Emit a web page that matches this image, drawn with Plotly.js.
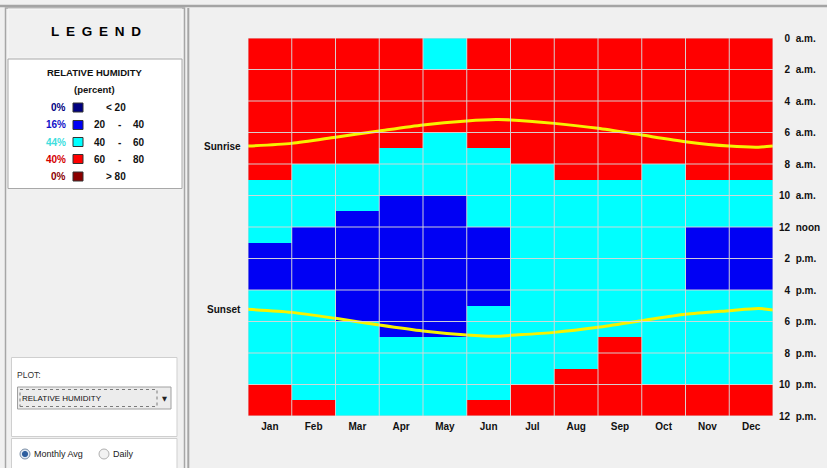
<!DOCTYPE html>
<html><head><meta charset="utf-8">
<script src="https://cdn.plot.ly/plotly-3.0.1.min.js"></script>
<style>html,body{margin:0;padding:0;background:#f0f0f0;overflow:hidden}</style>
</head><body><div id="chart" style="width:827px;height:468px"></div>
<script>
// ---------- DATA ----------
const months = ['Jan','Feb','Mar','Apr','May','Jun','Jul','Aug','Sep','Oct','Nov','Dec'];
const hourTickVals = [0,2,4,6,8,10,12,14,16,18,20,22,24];
const hourTickNums = ['0','2','4','6','8','10','12','2','4','6','8','10','12'];
const hourTickSuffix = ['a.m.','a.m.','a.m.','a.m.','a.m.','a.m.','noon','p.m.','p.m.','p.m.','p.m.','p.m.','p.m.'];

// humidity classes: 0 = <20, 1 = 20-40, 2 = 40-60, 3 = 60-80, 4 = >80  (hours 0..23)
const rhJan = [3,3,3,3,3,3,3,3,3,2,2,2,2,1,1,1,2,2,2,2,2,2,3,3];
const rhFeb = [3,3,3,3,3,3,3,3,2,2,2,2,1,1,1,1,2,2,2,2,2,2,2,3];
const rhMar = [3,3,3,3,3,3,3,3,2,2,2,1,1,1,1,1,1,1,2,2,2,2,2,2];
const rhApr = [3,3,3,3,3,3,3,2,2,2,1,1,1,1,1,1,1,1,1,2,2,2,2,2];
const rhMay = [2,2,3,3,3,3,2,2,2,2,1,1,1,1,1,1,1,1,1,2,2,2,2,2];
const rhJun = [3,3,3,3,3,3,3,2,2,2,2,2,1,1,1,1,1,2,2,2,2,2,2,3];
const rhJul = [3,3,3,3,3,3,3,3,2,2,2,2,2,2,2,2,2,2,2,2,2,2,3,3];
const rhAug = [3,3,3,3,3,3,3,3,3,2,2,2,2,2,2,2,2,2,2,2,2,3,3,3];
const rhSep = [3,3,3,3,3,3,3,3,3,2,2,2,2,2,2,2,2,2,2,3,3,3,3,3];
const rhOct = [3,3,3,3,3,3,3,3,2,2,2,2,2,2,2,2,2,2,2,2,2,2,3,3];
const rhNov = [3,3,3,3,3,3,3,3,3,2,2,2,1,1,1,1,2,2,2,2,2,2,3,3];
const rhDec = [3,3,3,3,3,3,3,3,3,2,2,2,1,1,1,1,2,2,2,2,2,2,3,3];
const rhByMonth = [rhJan,rhFeb,rhMar,rhApr,rhMay,rhJun,rhJul,rhAug,rhSep,rhOct,rhNov,rhDec];

const classLow  = [null, '20', '40', '60', '80'];
const classHigh = ['20', '40', '60', '80', null];
const classColors = ['#000080','#0000f4','#00ffff','#ff0000','#8b0000'];
const classTextColors = ['#000080','#1010c8','#40dede','#d40000','#8b0000'];

// sun times (month position 0..12, hour of day)
const sunMonthPos = [0,1,2,3,4,5,5.67,6,7,8,9,10,11,11.67,12];
const sunriseHour = [6.86,6.69,6.30,5.90,5.52,5.27,5.18,5.20,5.42,5.73,6.16,6.58,6.86,6.93,6.86];
const sunsetHour  = [17.23,17.42,17.80,18.22,18.60,18.86,18.94,18.88,18.69,18.37,17.95,17.54,17.31,17.17,17.27];

// ---------- GEOMETRY ----------
const W = 827, H = 468, L = 248, R = 773, T = 38, B = 416;
const px2x = p => (p - L) / (R - L);
const px2y = p => (B - p) / (B - T);
const FONT = 'Liberation Sans, Arial, sans-serif';

// heatmap matrix (rows = hours, cols = months)
const hours = Array.from({length:24}, (_, h) => h + 0.5);
const monthPos = months.map((_, i) => i + 0.5);
const z = hours.map((_, h) => rhByMonth.map(m => m[h]));

const nClass = classColors.length;
const colorscale = [];
classColors.forEach((c, i) => { colorscale.push([i / nClass, c]); colorscale.push([(i + 1) / nClass, c]); });

// percentages per class
const total = rhByMonth.length * 24;
const pct = classColors.map((_, k) => Math.round(100 * rhByMonth.reduce((s, m) => s + m.filter(v => v === k).length, 0) / total));

const traces = [
  {type:'heatmap', x: monthPos, y: hours, z: z, zmin: -0.5, zmax: nClass - 0.5,
   colorscale: colorscale, showscale: false, hoverinfo: 'skip'},
  {type:'scatter', mode:'lines', x: sunMonthPos, y: sunriseHour, line:{color:'#f6f200', width:3, shape:'spline', smoothing:0.7}, hoverinfo:'skip'},
  {type:'scatter', mode:'lines', x: sunMonthPos, y: sunsetHour, line:{color:'#f6f200', width:3, shape:'spline', smoothing:0.7}, hoverinfo:'skip'}
];

// ---------- SHAPES ----------
const shapes = [];
function rectPx(x0, y0, x1, y1, fill, line, lw, dash) {
  shapes.push({type:'rect', xref:'paper', yref:'paper', layer:'below',
    x0: px2x(x0), x1: px2x(x1), y0: px2y(y1), y1: px2y(y0),
    fillcolor: fill, line:{color: line, width: lw === undefined ? 1 : lw, dash: dash || 'solid'}});
}
function linePx(x0, y0, x1, y1, color, lw) {
  shapes.push({type:'line', xref:'paper', yref:'paper', layer:'below',
    x0: px2x(x0), x1: px2x(x1), y0: px2y(y0), y1: px2y(y1), line:{color: color, width: lw}});
}
function circlePx(cx, cy, r, fill, line) {
  shapes.push({type:'circle', xref:'paper', yref:'paper', layer:'below',
    x0: px2x(cx - r), x1: px2x(cx + r), y0: px2y(cy + r), y1: px2y(cy - r),
    fillcolor: fill, line:{color: line, width: 1}});
}

// grid lines over the heatmap
for (let i = 0; i <= months.length; i++) {
  shapes.push({type:'line', xref:'x', yref:'y', layer:'above', x0:i, x1:i, y0:0, y1:24,
    line:{color:'rgba(215,215,215,0.95)', width:1}});
}
hourTickVals.forEach(h => {
  shapes.push({type:'line', xref:'x', yref:'y', layer:'above', x0:0, x1:months.length, y0:h, y1:h,
    line:{color:'rgba(215,215,215,0.95)', width:1}});
});

// window chrome
linePx(0, 6, W, 6, '#a4a4a4', 2.5);
rectPx(5.5, 8, 184.5, 480, '#f0f0f0', '#a6a6a6', 1.5);
linePx(188.3, 8, 188.3, 480, '#a6a6a6', 2);
rectPx(8, 9, 182, 58, '#f0f0f0', '#f7f7f7', 1);
rectPx(8, 59, 182, 188.5, '#ffffff', '#a8a8a8', 1);
rectPx(11.5, 357.5, 177, 436.5, '#ffffff', '#cfcfcf', 1);
rectPx(11.5, 438.5, 177, 480, '#ffffff', '#cfcfcf', 1);
// dropdown
rectPx(17.5, 387, 171, 409, '#ececec', '#a0a0a0', 1);
rectPx(20, 389.5, 157, 406.5, 'rgba(0,0,0,0)', '#7a7a7a', 1, 'dot');
// radio buttons
circlePx(25, 454, 5, '#dfe8f2', '#7b8ea6');
circlePx(25, 454, 2.6, '#2d5e9e', '#2d5e9e');
circlePx(104, 454, 5, '#f2f2f2', '#b0b0b0');

// legend swatches
const rowY = [107.5, 125, 142, 159, 176.5];
classColors.forEach((c, k) => rectPx(73, rowY[k] - 4.5, 83, rowY[k] + 4.5, c, '#333333', 1));

// ---------- ANNOTATIONS ----------
const annotations = [];
function annPx(x, y, text, size, opts) {
  annotations.push(Object.assign({xref:'paper', yref:'paper', x: px2x(x), y: px2y(y), text: text,
    showarrow:false, borderpad:0, xanchor:'left', yanchor:'middle',
    font:{family: FONT, size: size, color:'#111111'}}, opts || {}));
}
const sp = '\u2002';
annPx(96, 31.5, '<b>' + 'LEGEND'.split('').join(sp) + '</b>', 13.5, {xanchor:'center', font:{family:FONT, size:13.5, color:'#000'}});
annPx(94, 72.5, '<b>RELATIVE HUMIDITY</b>', 9.5, {xanchor:'center'});
annPx(94, 89.5, '<b>(percent)</b>', 9.5, {xanchor:'center'});
classColors.forEach((c, k) => {
  annPx(67, rowY[k], '<b>' + pct[k] + '%</b>', 10, {xanchor:'right', font:{family:FONT, size:10, color: classTextColors[k]}});
  if (classLow[k] === null) {
    annPx(105, rowY[k], '<b>&lt; ' + classHigh[k] + '</b>', 10);
  } else if (classHigh[k] === null) {
    annPx(105, rowY[k], '<b>&gt; ' + classLow[k] + '</b>', 10);
  } else {
    annPx(93, rowY[k], '<b>' + classLow[k] + '</b>', 10);
    annPx(119, rowY[k], '<b>-</b>', 10, {xanchor:'center'});
    annPx(132, rowY[k], '<b>' + classHigh[k] + '</b>', 10);
  }
});
annPx(16, 375, 'PLOT:', 8.5, {font:{family:FONT, size:8.5, color:'#333'}});
annPx(20.5, 398, 'RELATIVE HUMIDITY', 8, {font:{family:FONT, size:8, color:'#111'}});
annPx(164, 398.5, '\u25BC', 6.5, {xanchor:'center', font:{family:'DejaVu Sans', size:6.5, color:'#222'}});
annPx(32.5, 454, 'Monthly Avg', 9, {font:{family:FONT, size:9, color:'#222'}});
annPx(111.5, 454, 'Daily', 9, {font:{family:FONT, size:9, color:'#222'}});

// Sunrise / Sunset labels tied to the data
annotations.push({xref:'x', yref:'y', x: sunMonthPos[0], y: sunriseHour[0], text:'<b>Sunrise</b>', showarrow:false,
  xanchor:'right', yanchor:'middle', xshift:-6, borderpad:0, font:{family:FONT, size:10, color:'#111'}});
annotations.push({xref:'x', yref:'y', x: sunMonthPos[0], y: sunsetHour[0], text:'<b>Sunset</b>', showarrow:false,
  xanchor:'right', yanchor:'middle', xshift:-6, borderpad:0, font:{family:FONT, size:10, color:'#111'}});

const yTickText = hourTickNums.map((n, i) => (n.length === 1 ? '\u2007' : '') + n + ' \u00a0' + hourTickSuffix[i]);

const layout = {
  width: W, height: H, autosize: false,
  margin: {l: L, r: W - R, t: T, b: H - B, pad: 0},
  paper_bgcolor: '#f0f0f0', plot_bgcolor: '#f0f0f0',
  showlegend: false,
  xaxis: {range: [0, months.length], tickvals: monthPos, ticktext: months, showgrid: false, zeroline: false,
    showline: false, ticks: '', ticklabelstandoff: 3, fixedrange: true,
    tickfont: {family: FONT, size: 10, weight: 'bold', color: '#111'}},
  yaxis: {range: [24, 0], side: 'right', tickvals: hourTickVals, ticktext: yTickText, showgrid: false,
    zeroline: false, showline: false, ticks: '', ticklabelstandoff: 5, fixedrange: true,
    tickfont: {family: FONT, size: 10, weight: 'bold', color: '#111'}},
  shapes: shapes,
  annotations: annotations
};

Plotly.newPlot('chart', traces, layout, {displayModeBar: false, staticPlot: true});
</script>
</body></html>
